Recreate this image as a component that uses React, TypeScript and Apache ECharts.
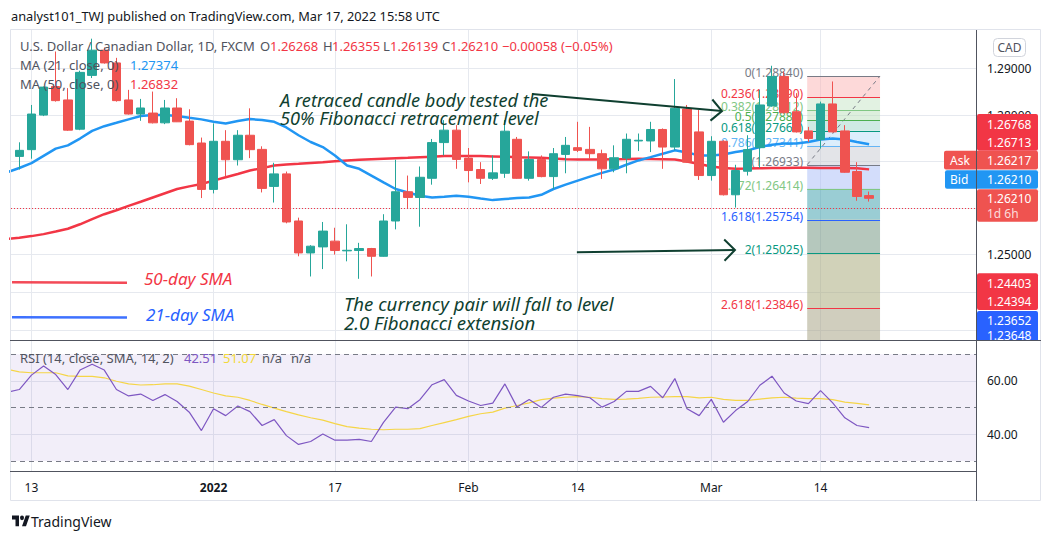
import React, { useEffect, useRef } from 'react';
import * as echarts from 'echarts';

// ---------- data ----------
// daily bars, index 0 .. 70 (index 1 = 13 Dec 2021, index 66 = 14 Mar 2022)
const opens = [
  1.27111, 1.27256, 1.28000, 1.28614, 1.28325, 1.27696, 1.28853, 1.29395, 1.29121, 1.28325,
  1.28022, 1.28043, 1.27833, 1.28152, 1.27870, 1.27399, 1.26401, 1.27436, 1.27039, 1.27566,
  1.27262, 1.26466, 1.26735, 1.25722, 1.25035, 1.25165, 1.25289, 1.25080, 1.25087, 1.25130,
  1.24963, 1.25722, 1.26351, 1.26228, 1.26640, 1.27408, 1.27675, 1.27074, 1.26829, 1.26640,
  1.26748, 1.27479, 1.26640, 1.27046, 1.26677, 1.27154, 1.27299, 1.27262, 1.27169, 1.26844,
  1.27074, 1.27443, 1.27443, 1.27690, 1.27312, 1.28130, 1.27638, 1.26699, 1.27436, 1.26286,
  1.26792, 1.27299, 1.28195, 1.28831, 1.28072, 1.27659, 1.27473, 1.28239, 1.27659, 1.26785,
  1.26268,
];
const highs = [
  1.27414, 1.28217, 1.28614, 1.29367, 1.28579, 1.28954, 1.29642, 1.29453, 1.29230, 1.28542,
  1.28347, 1.28505, 1.28325, 1.28362, 1.28124, 1.27516, 1.27820, 1.27675, 1.27675, 1.28145,
  1.27328, 1.26974, 1.26785, 1.25794, 1.25202, 1.25701, 1.25577, 1.25651, 1.25252, 1.25143,
  1.25868, 1.27039, 1.26699, 1.26894, 1.27486, 1.27892, 1.27783, 1.27291, 1.26987, 1.27132,
  1.27892, 1.27529, 1.27219, 1.27132, 1.27291, 1.27529, 1.27855, 1.27746, 1.27256, 1.27349,
  1.27603, 1.27603, 1.27855, 1.27712, 1.28774, 1.28217, 1.28108, 1.27545, 1.27458, 1.26931,
  1.27566, 1.28542, 1.29060, 1.28939, 1.28471, 1.27746, 1.28289, 1.28722, 1.27783, 1.26987,
  1.26355,
];
const lows = [
  1.26829, 1.27061, 1.27978, 1.28289, 1.27659, 1.27675, 1.28796, 1.29106, 1.28289, 1.28010,
  1.27876, 1.27820, 1.27805, 1.27850, 1.27349, 1.26215, 1.26315, 1.26677, 1.26915, 1.27074,
  1.26336, 1.26119, 1.25672, 1.24963, 1.24529, 1.24688, 1.25000, 1.24855, 1.24479, 1.24529,
  1.24955, 1.25542, 1.25998, 1.25599, 1.26503, 1.27132, 1.26844, 1.26553, 1.26518, 1.26605,
  1.26649, 1.26630, 1.26590, 1.26662, 1.26410, 1.26748, 1.27204, 1.27061, 1.26627, 1.26770,
  1.26748, 1.27226, 1.27204, 1.26844, 1.27241, 1.26975, 1.26605, 1.26590, 1.26270, 1.26011,
  1.26699, 1.26866, 1.28180, 1.28037, 1.27625, 1.27421, 1.27278, 1.27625, 1.26760, 1.26156,
  1.26139,
];
const closes = [
  1.27241, 1.28022, 1.28601, 1.28310, 1.27675, 1.28918, 1.29395, 1.29121, 1.28310, 1.28022,
  1.28152, 1.27833, 1.28152, 1.27855, 1.27364, 1.26401, 1.27436, 1.27039, 1.27566, 1.27256,
  1.26423, 1.26735, 1.25701, 1.25035, 1.25180, 1.25505, 1.25087, 1.25092, 1.25130, 1.24963,
  1.25722, 1.26351, 1.26228, 1.26662, 1.27408, 1.27675, 1.27046, 1.26807, 1.26640, 1.26757,
  1.27653, 1.26640, 1.27046, 1.26677, 1.27169, 1.27349, 1.27241, 1.27169, 1.26844, 1.27082,
  1.27479, 1.27458, 1.27690, 1.27312, 1.28145, 1.26987, 1.26699, 1.27436, 1.26286, 1.26807,
  1.27256, 1.28217, 1.28831, 1.28050, 1.27638, 1.27495, 1.28239, 1.27638, 1.26770, 1.26249,
  1.26210,
];

// indicator arrays start one bar before the first full candle (index -1, clipped at the pane edge)
const lineFirstIndex = -1;
const ma21 = [
  1.26771, 1.26861, 1.26965, 1.27122, 1.27278, 1.27349, 1.27495, 1.27659, 1.27761, 1.27833,
  1.27907, 1.27978, 1.28000, 1.28000, 1.27978, 1.27941, 1.27907, 1.27855, 1.27820, 1.27870,
  1.27913, 1.27892, 1.27855, 1.27733, 1.27566, 1.27421, 1.27312, 1.27132, 1.26915, 1.26844,
  1.26699, 1.26553, 1.26410, 1.26336, 1.26265, 1.26228, 1.26243, 1.26265, 1.26243, 1.26206,
  1.26171, 1.26193, 1.26215, 1.26228, 1.26286, 1.26410, 1.26503, 1.26590, 1.26677, 1.26757,
  1.26829, 1.26931, 1.27024, 1.27095, 1.27169, 1.27241, 1.27197, 1.27132, 1.27132, 1.27154,
  1.27204, 1.27241, 1.27312, 1.27364, 1.27386, 1.27386, 1.27421, 1.27473, 1.27495, 1.27473,
  1.27421, 1.27374,
];
const ma50 = [
  1.25338, 1.25364, 1.25397, 1.25440, 1.25495, 1.25555, 1.25651, 1.25764, 1.25868, 1.25954,
  1.26048, 1.26135, 1.26228, 1.26319, 1.26410, 1.26466, 1.26518, 1.26590, 1.26662, 1.26733,
  1.26807, 1.26859, 1.26915, 1.26937, 1.26952, 1.26970, 1.26987, 1.27007, 1.27024, 1.27039,
  1.27050, 1.27061, 1.27072, 1.27082, 1.27093, 1.27104, 1.27117, 1.27117, 1.27117, 1.27117,
  1.27111, 1.27104, 1.27095, 1.27089, 1.27082, 1.27067, 1.27052, 1.27046, 1.27046, 1.27046,
  1.27050, 1.27054, 1.27061, 1.27056, 1.27052, 1.27046, 1.27002, 1.26948, 1.26894, 1.26861,
  1.26844, 1.26850, 1.26857, 1.26861, 1.26863, 1.26866, 1.26866, 1.26863, 1.26861, 1.26859,
  1.26857, 1.26832,
];
const rsi = [
  55.8, 56.8, 62.2, 65.6, 62.4, 56.8, 64.1, 66.3, 64.1, 56.8,
  54.4, 55.1, 52.7, 54.9, 52.3, 48.3, 41.4, 49.6, 47.0, 50.6,
  48.5, 43.3, 45.5, 39.5, 36.2, 37.3, 40.1, 37.8, 37.8, 38.1,
  37.3, 44.5, 50.2, 49.6, 53.0, 58.6, 60.5, 54.6, 52.5, 50.8,
  51.7, 58.9, 50.2, 53.1, 50.1, 53.9, 55.1, 54.5, 53.7, 50.2,
  52.3, 56.1, 56.1, 58.0, 53.7, 60.9, 49.6, 47.0, 53.1, 44.5,
  48.9, 52.3, 58.4, 61.8, 55.5, 52.5, 51.5, 56.4, 51.8, 46.2,
  43.3, 42.51,
];
const rsiMa = [
  64.4, 63.4, 63.1, 63.1, 63.1, 61.9, 61.7, 61.7, 61.2, 59.9,
  58.9, 58.5, 58.6, 58.9, 58.9, 58.1, 56.8, 55.5, 54.4, 53.9,
  52.7, 51.2, 49.8, 48.5, 47.3, 46.2, 45.3, 44.0, 42.9, 42.3,
  41.9, 41.7, 41.9, 41.9, 42.1, 43.3, 44.4, 45.5, 46.7, 47.7,
  48.3, 49.8, 50.8, 51.8, 53.0, 53.6, 53.9, 54.1, 53.9, 53.4,
  53.1, 53.2, 53.5, 53.9, 54.0, 54.1, 54.1, 53.7, 53.9, 53.1,
  52.7, 52.7, 53.2, 53.7, 53.9, 53.6, 53.4, 53.4, 53.0, 52.1,
  51.6, 51.07,
];

const timeTickIndex = [1, 16, 26, 37, 46, 57, 66];
const timeTickLabels = ['13', '2022', '17', 'Feb', '14', 'Mar', '14'];
const priceGridValues = [1.29, 1.28, 1.27, 1.26, 1.25, 1.24195, 1.23378];
const priceLabelValues = [1.29, 1.28, 1.25];
const rsiLabelValues = [60, 40];
const rsiBandLevels = [70, 50, 30];
const lastPrice = 1.2621;

// Fibonacci drawing
const fibStartIndex = 64.9;
const fibEndIndex = 70.9;
const fibRatios = [0, 0.236, 0.382, 0.5, 0.618, 0.786, 1, 1.272, 1.618, 2, 2.618];
const fibPrices = [1.2884, 1.2839, 1.28112, 1.27887, 1.27661, 1.27341, 1.26933, 1.26414, 1.25754, 1.25025, 1.23846];
const fibColors = ['#787B86', '#F23645', '#81C784', '#4CAF50', '#089981', '#64B5F6', '#787B86', '#81C784', '#2962FF', '#089981', '#F23645'];
const fibZoneColors = [
  'rgba(251,179,179,0.5)', 'rgba(197,229,197,0.5)', 'rgba(187,223,187,0.5)', 'rgba(159,213,201,0.5)',
  'rgba(185,221,249,0.5)', 'rgba(199,201,209,0.5)', 'rgba(167,187,247,0.5)', 'rgba(53,155,169,0.5)',
  'rgba(107,145,123,0.5)', 'rgba(163,165,115,0.5)', 'rgba(161,157,125,0.5)',
];

// other drawings (bar index, price)
const redLegendLine = [[-0.6, 1.24403], [8.87, 1.24394]];
const blueLegendLine = [[-0.6, 1.23652], [8.87, 1.23648]];
const arrowLines = [
  [42.23, 1.28453, 57.88, 1.28087],
  [45.93, 1.25049, 58.95, 1.25098],
];

// ---------- layout ----------
const X_MIN = -0.6837;
const X_MAX = 78.805;
const P_MIN = 1.23163;
const P_MAX = 1.29829;
const R_MIN = 26.23;
const R_MAX = 75.38;

const UI_FONT = "'Noto Sans', Roboto, sans-serif";
const GRID_COLOR = '#E6E9EF';
const FRAME_DARK = '#50535E';

function txt(x: number, y: number, text: string, fill: string, size = 13, extra: any = {}) {
  return {
    type: 'text', x, y, z: 120, silent: true,
    style: {
      text, fill, font: `${extra.weight || 'normal'} ${size}px ${UI_FONT}`,
      align: extra.align || 'left', textAlign: extra.align || 'left',
      verticalAlign: 'middle', textVerticalAlign: 'middle',
      opacity: extra.opacity == null ? 1 : extra.opacity,
    },
  };
}
function note(x: number, y: number, text: string, fill: string, size = 18) {
  return {
    type: 'text', x, y, z: 110, silent: true,
    style: {
      text, fill, font: `italic ${size}px 'Noto Sans', sans-serif`,
      align: 'left', textAlign: 'left', verticalAlign: 'middle', textVerticalAlign: 'middle',
    },
  };
}
function box(x: number, y: number, w: number, h: number, fill: string) {
  return { type: 'rect', z: 115, silent: true, shape: { x, y, width: w, height: h, r: 2 }, style: { fill } };
}
function hline(x1: number, x2: number, y: number, stroke: string) {
  return { type: 'line', z: 118, silent: true, shape: { x1, y1: y, x2, y2: y }, style: { stroke, lineWidth: 1 } };
}
function vline(x: number, y1: number, y2: number, stroke: string) {
  return { type: 'line', z: 118, silent: true, shape: { x1: x, y1, x2: x, y2 }, style: { stroke, lineWidth: 1 } };
}

echarts.graphic.registerShape(
  'tvlogo',
  echarts.graphic.extendPath(
    'M14 22H7V11H0V4h14v18z M28 22h-8l7.5-18h8L28 22z M20 4a4 4 0 1 1 0 8a4 4 0 1 1 0-8z',
    {}
  )
);

export default function App() {
  const ref = useRef<HTMLDivElement>(null);

  useEffect(() => {
    if (!ref.current) return;
    const chart = echarts.init(ref.current, undefined, { renderer: 'svg' });

    const candleData = opens.map((o, i) => [i, o, closes[i], lows[i], highs[i]]);
    const toLine = (arr: number[]) => arr.map((v, k) => [lineFirstIndex + k, v]);
    const fibData = fibPrices.map((p) => [fibStartIndex, p]);

    const option: any = {
      animation: false,
      backgroundColor: '#ffffff',
      grid: [
        { left: 11, top: 30, width: 965, height: 310 },
        { left: 11, top: 340, width: 965, height: 131 },
      ],
      xAxis: [
        {
          type: 'value', gridIndex: 0, min: X_MIN, max: X_MAX,
          axisLine: { show: false },
          axisTick: { show: false, customValues: timeTickIndex },
          axisLabel: { show: false, customValues: timeTickIndex },
          splitLine: { show: true, lineStyle: { color: GRID_COLOR, width: 1 } },
        },
        {
          type: 'value', gridIndex: 1, min: X_MIN, max: X_MAX,
          axisLine: { show: false },
          axisTick: { show: false, customValues: timeTickIndex },
          axisLabel: {
            show: true, customValues: timeTickIndex, margin: 10,
            color: '#131722', fontSize: 12, fontFamily: UI_FONT,
            formatter: (v: number) => {
              const k = timeTickIndex.indexOf(Math.round(v));
              if (k < 0) return '';
              const s = timeTickLabels[k];
              return /^\d{4}$/.test(s) ? `{b|${s}}` : s;
            },
            rich: { b: { fontWeight: 'bold', fontSize: 12, color: '#131722', fontFamily: UI_FONT } },
          },
          splitLine: { show: true, lineStyle: { color: GRID_COLOR, width: 1 } },
        },
      ],
      yAxis: [
        {
          type: 'value', gridIndex: 0, position: 'right', min: P_MIN, max: P_MAX, scale: true,
          axisLine: { show: false },
          axisTick: { show: false, customValues: priceGridValues },
          axisLabel: {
            show: true, customValues: priceLabelValues, margin: 11, color: '#131722',
            fontSize: 12, fontFamily: UI_FONT, formatter: (v: number) => v.toFixed(5),
          },
          splitLine: { show: true, lineStyle: { color: GRID_COLOR, width: 1 } },
        },
        {
          type: 'value', gridIndex: 1, position: 'right', min: R_MIN, max: R_MAX,
          axisLine: { show: false },
          axisTick: { show: false, customValues: rsiLabelValues },
          axisLabel: {
            show: true, customValues: rsiLabelValues, margin: 11, color: '#131722',
            fontSize: 12, fontFamily: UI_FONT, formatter: (v: number) => v.toFixed(2),
          },
          splitLine: { show: true, lineStyle: { color: GRID_COLOR, width: 1 } },
        },
      ],
      series: [
        {
          name: 'fibZones', type: 'custom', xAxisIndex: 0, yAxisIndex: 0, z: 2, silent: true,
          encode: { x: 0, y: 1 }, data: fibData,
          renderItem: (params: any, api: any) => {
            const i = params.dataIndex;
            const cs = params.coordSys;
            const a = api.coord([fibStartIndex, fibPrices[i]]);
            const b = api.coord([fibEndIndex, fibPrices[i]]);
            const children: any[] = [];
            if (i > 0) {
              const prev = api.coord([fibStartIndex, fibPrices[i - 1]]);
              children.push({
                type: 'rect', shape: { x: a[0], y: prev[1], width: b[0] - a[0], height: a[1] - prev[1] },
                style: { fill: fibZoneColors[i - 1] },
              });
            }
            if (i === fibPrices.length - 1) {
              children.push({
                type: 'rect', shape: { x: a[0], y: a[1], width: b[0] - a[0], height: cs.y + cs.height - a[1] },
                style: { fill: fibZoneColors[fibZoneColors.length - 1] },
              });
            }
            return { type: 'group', children };
          },
        },
        {
          name: 'fibLevels', type: 'custom', xAxisIndex: 0, yAxisIndex: 0, z: 3, silent: true,
          encode: { x: 0, y: 1 }, data: fibData,
          renderItem: (params: any, api: any) => {
            const i = params.dataIndex;
            const a = api.coord([fibStartIndex, fibPrices[i]]);
            const b = api.coord([fibEndIndex, fibPrices[i]]);
            const y = Math.round(a[1]) + 0.5;
            const children: any[] = [
              { type: 'line', shape: { x1: a[0], y1: y, x2: b[0], y2: y }, style: { stroke: fibColors[i], lineWidth: 1 } },
              {
                type: 'text', x: a[0] - 4, y: y + 2,
                style: {
                  text: `${fibRatios[i]}(${fibPrices[i].toFixed(5)})`, fill: fibColors[i],
                  font: `12px ${UI_FONT}`, align: 'right', textAlign: 'right',
                  verticalAlign: 'bottom', textVerticalAlign: 'bottom',
                },
              },
            ];
            if (i === 0) {
              const s = api.coord([fibStartIndex, fibPrices[6]]);
              const e = api.coord([fibEndIndex, fibPrices[0]]);
              children.push({
                type: 'line', shape: { x1: s[0], y1: s[1], x2: e[0], y2: e[1] },
                style: { stroke: '#787B86', lineWidth: 1, lineDash: [4, 4] },
              });
            }
            return { type: 'group', children };
          },
        },
        {
          name: 'MA 50', type: 'line', xAxisIndex: 0, yAxisIndex: 0, z: 4, silent: true,
          data: toLine(ma50), showSymbol: false, symbol: 'none',
          lineStyle: { color: '#F23645', width: 2.5 },
        },
        {
          name: 'MA 21', type: 'line', xAxisIndex: 0, yAxisIndex: 0, z: 4, silent: true,
          data: toLine(ma21), showSymbol: false, symbol: 'none',
          lineStyle: { color: '#2196F3', width: 2.5 },
        },
        {
          name: 'redLegendLine', type: 'line', xAxisIndex: 0, yAxisIndex: 0, z: 4, silent: true,
          data: redLegendLine, showSymbol: false, symbol: 'none',
          lineStyle: { color: '#F23645', width: 2.5, opacity: 0.9 },
        },
        {
          name: 'blueLegendLine', type: 'line', xAxisIndex: 0, yAxisIndex: 0, z: 4, silent: true,
          data: blueLegendLine, showSymbol: false, symbol: 'none',
          lineStyle: { color: '#2962FF', width: 2.5, opacity: 0.9 },
        },
        {
          name: 'USDCAD', type: 'candlestick', xAxisIndex: 0, yAxisIndex: 0, z: 5, silent: true,
          encode: { x: 0, y: [1, 2, 3, 4] },
          data: candleData, barWidth: 9,
          itemStyle: { color: '#26A69A', color0: '#EF5350', borderColor: '#26A69A', borderColor0: '#EF5350', borderWidth: 1 },
          markLine: {
            silent: true, symbol: ['none', 'none'], label: { show: false },
            lineStyle: { color: '#F23645', type: [1, 2], width: 1 },
            data: [{ yAxis: lastPrice }],
          },
        },
        {
          name: 'arrows', type: 'custom', xAxisIndex: 0, yAxisIndex: 0, z: 6, silent: true,
          encode: { x: [0, 2], y: [1, 3] }, data: arrowLines,
          renderItem: (params: any, api: any) => {
            const d = arrowLines[params.dataIndex];
            const p1 = api.coord([d[0], d[1]]);
            const p2 = api.coord([d[2], d[3]]);
            const ang = Math.atan2(p2[1] - p1[1], p2[0] - p1[0]);
            const L = 15;
            const w1 = [p2[0] - L * Math.cos(ang - Math.PI / 4), p2[1] - L * Math.sin(ang - Math.PI / 4)];
            const w2 = [p2[0] - L * Math.cos(ang + Math.PI / 4), p2[1] - L * Math.sin(ang + Math.PI / 4)];
            const st = { stroke: '#0F3F30', lineWidth: 2, fill: 'none' };
            return {
              type: 'group',
              children: [
                { type: 'line', shape: { x1: p1[0], y1: p1[1], x2: p2[0], y2: p2[1] }, style: st },
                { type: 'polyline', shape: { points: [w1, p2, w2] }, style: st },
              ],
            };
          },
        },
        {
          name: 'RSI', type: 'line', xAxisIndex: 1, yAxisIndex: 1, z: 4, silent: true,
          data: toLine(rsi), showSymbol: false, symbol: 'none',
          lineStyle: { color: '#7E57C2', width: 1.2 },
          markArea: {
            silent: true, itemStyle: { color: 'rgba(126,87,194,0.1)' },
            data: [[{ yAxis: rsiBandLevels[2] }, { yAxis: rsiBandLevels[0] }]],
          },
          markLine: {
            silent: true, symbol: ['none', 'none'], label: { show: false },
            lineStyle: { color: '#787B86', type: [5, 4], width: 1 },
            data: rsiBandLevels.map((v) => ({ yAxis: v })),
          },
        },
        {
          name: 'RSI MA', type: 'line', xAxisIndex: 1, yAxisIndex: 1, z: 3, silent: true,
          data: toLine(rsiMa), showSymbol: false, symbol: 'none',
          lineStyle: { color: '#F5D547', width: 1.2 },
        },
      ],
      graphic: [
        // frame
        { type: 'rect', z: 117, silent: true, shape: { x: 10.5, y: 29.5, width: 1030, height: 471 }, style: { fill: 'none', stroke: '#E0E3EB', lineWidth: 1 } },
        vline(976.5, 30, 501, FRAME_DARK),
        hline(10, 1041, 340.5, FRAME_DARK),
        hline(10, 977, 471.5, FRAME_DARK),
        // header
        txt(11, 16, 'analyst101_TWJ published on TradingView.com, Mar 17, 2022 15:58 UTC', '#131722', 12.8),
        txt(20, 46, 'U.S. Dollar / Canadian Dollar, 1D, FXCM', '#50535E', 13),
        txt(260, 46, 'O', '#50535E', 13), txt(270, 46, '1.26268', '#F23645', 13),
        txt(323, 46, 'H', '#50535E', 13), txt(332, 46, '1.26355', '#F23645', 13),
        txt(383, 46, 'L', '#50535E', 13), txt(390, 46, '1.26139', '#F23645', 13),
        txt(442, 46, 'C', '#50535E', 13), txt(450, 46, '1.26210', '#F23645', 13),
        txt(502, 46, '\u22120.00058 (\u22120.05%)', '#F23645', 13),
        txt(20, 65, 'MA (21, close, 0)', '#50535E', 13), txt(130, 65, '1.27374', '#2196F3', 13),
        txt(20, 84, 'MA (50, close, 0)', '#50535E', 13), txt(130, 84, '1.26832', '#F23645', 13),
        // RSI legend
        txt(20, 358, 'RSI (14, close, SMA, 14, 2)', '#50535E', 13),
        txt(184, 358, '42.51', '#7E57C2', 13),
        txt(223, 358, '51.07', '#F2D93A', 13),
        txt(262, 358, 'n/a', '#50535E', 13),
        txt(291, 358, 'n/a', '#50535E', 13),
        // notes
        note(280, 100, 'A retraced candle body tested the', '#0F3F30', 18.2),
        note(280, 118, '50% Fibonacci retracement level', '#0F3F30', 18.2),
        note(344, 303, 'The currency pair will fall to level', '#0F3F30', 18.6),
        note(344, 322, '2.0 Fibonacci extension', '#0F3F30', 18.6),
        note(144, 278, '50-day SMA', '#F23645', 17),
        note(146, 314, '21-day SMA', '#2962FF', 17),
        // currency badge
        { type: 'rect', z: 115, silent: true, shape: { x: 993.5, y: 38.5, width: 32, height: 18, r: 4 }, style: { fill: '#ffffff', stroke: '#D1D4DC', lineWidth: 1 } },
        txt(1009.5, 47.5, 'CAD', '#50535E', 12, { align: 'center' }),
        // price-scale labels
        box(977, 114, 61, 36.7, '#F23645'),
        txt(987, 124, '1.26768', '#ffffff', 12), txt(987, 142.5, '1.26713', '#ffffff', 12),
        box(944, 150.7, 94, 18.8, '#EF5350'),
        txt(950, 160, 'Ask', '#ffffff', 12), txt(987, 160, '1.26217', '#ffffff', 12),
        box(945, 170.3, 93, 18.4, '#2196F3'),
        txt(950, 179.5, 'Bid', '#ffffff', 12), txt(987, 179.5, '1.26210', '#ffffff', 12),
        box(977, 189.3, 61, 32.4, '#EF5350'),
        txt(987, 198, '1.26210', '#ffffff', 12), txt(987, 213, '1d 6h', '#ffffff', 12, { opacity: 0.8 }),
        box(977, 273.3, 61, 36.7, '#F23645'),
        txt(987, 283, '1.24403', '#ffffff', 12), txt(987, 301.5, '1.24394', '#ffffff', 12),
        {
          type: 'group', z: 115, silent: true,
          clipPath: { type: 'rect', shape: { x: 977, y: 311, width: 61, height: 29 } },
          children: [
            { type: 'rect', shape: { x: 977, y: 311, width: 61, height: 31, r: 2 }, style: { fill: '#2962FF' } },
            { type: 'text', x: 987, y: 320, style: { text: '1.23652', fill: '#ffffff', font: `12px ${UI_FONT}`, verticalAlign: 'middle', textVerticalAlign: 'middle' } },
            { type: 'text', x: 987, y: 335, style: { text: '1.23648', fill: '#ffffff', font: `12px ${UI_FONT}`, verticalAlign: 'middle', textVerticalAlign: 'middle' } },
          ],
        },
        // TradingView footer
        { type: 'tvlogo', x: 12, y: 513, scaleX: 0.5, scaleY: 0.6, z: 120, silent: true, style: { fill: '#131722' } },
        txt(31, 521, 'TradingView', '#131722', 14),
      ],
    };

    chart.setOption(option);
    return () => chart.dispose();
  }, []);

  return (
    <div
      ref={ref}
      style={{ position: 'fixed', left: 0, top: 0, width: 1052, height: 539, background: '#ffffff' }}
    />
  );
}
